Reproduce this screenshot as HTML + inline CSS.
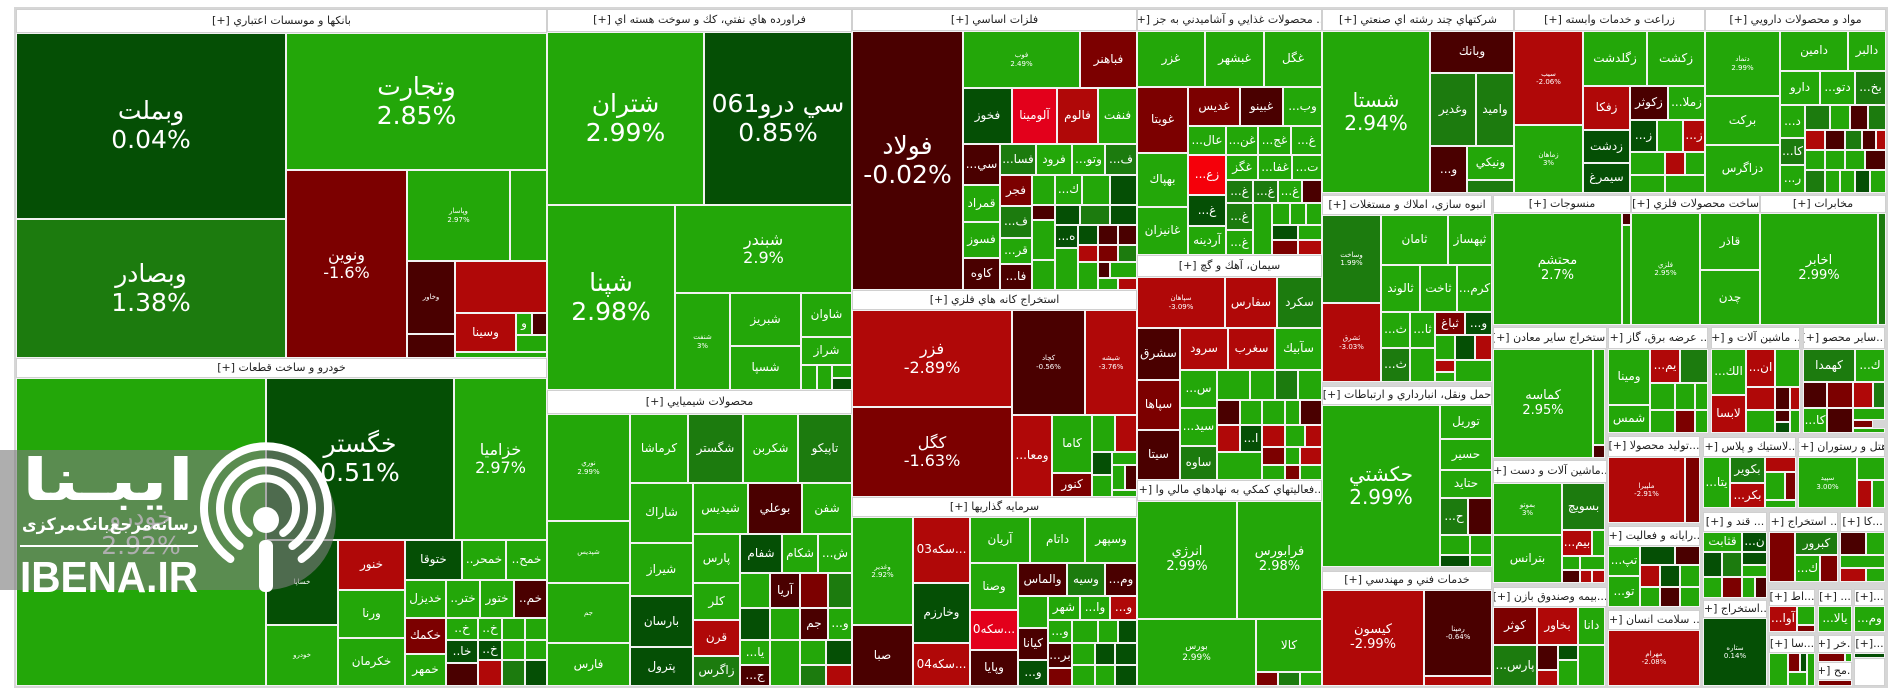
<!DOCTYPE html>
<html><head><meta charset="utf-8">
<style>
html,body{margin:0;padding:0;background:#fff;}
#w{position:relative;width:1904px;height:698px;overflow:hidden;font-family:"DejaVu Sans","Liberation Sans",sans-serif;}
#bg{position:absolute;left:14px;top:7px;width:1874px;height:681px;background:#d6d6d6;}
.c{position:absolute;box-sizing:border-box;border:1px solid #f2f2f2;color:#fff;display:flex;align-items:center;justify-content:center;text-align:center;overflow:hidden;line-height:1.15;font-size:12px;white-space:nowrap;
left:calc(var(--a)*1px);top:calc(var(--b)*1px);width:calc((var(--c) - var(--a))*1px);height:calc((var(--d) - var(--b))*1px);}
.h{background:#fff;color:#222;font-size:11px;border:1px solid #d0d0d0;}
.g{background:#23a709;}
.d{background:#054f05;}
.m{background:#1c7b0e;}
.k{background:#4a0000;}
.n{background:#7c0000;}
.r{background:#b00808;}
.b{background:#e3001b;}
.f1{font-size:25px;}
.f5{font-size:20px;}
.f2{font-size:16px;}
.f3{font-size:13px;}
.f4{font-size:7px;}
</style></head><body><div id="w"><div id="bg"></div>

<!-- BANKS -->
<div class="c h" dir="rtl" style="--a:16;--b:9;--c:547;--d:33">بانکها و موسسات اعتباري [+]</div>
<div class="c d f1" style="--a:16;--b:33;--c:286;--d:219">وبملت<br>0.04%</div>
<div class="c m f1" style="--a:16;--b:219;--c:286;--d:358">وبصادر<br>1.38%</div>
<div class="c g f1" style="--a:286;--b:33;--c:547;--d:170">وتجارت<br>2.85%</div>
<div class="c n f2" style="--a:286;--b:170;--c:407;--d:358">ونوين<br>-1.6%</div>
<div class="c g f4" style="--a:407;--b:170;--c:510;--d:261">وپاسار<br>2.97%</div>
<div class="c g" style="--a:510;--b:170;--c:547;--d:261"></div>
<div class="c k f4" style="--a:407;--b:261;--c:455;--d:334">وخاور</div>
<div class="c r" style="--a:455;--b:261;--c:547;--d:313"></div>
<div class="c r" style="--a:455;--b:313;--c:516;--d:352">وسينا</div>
<div class="c g" style="--a:516;--b:313;--c:532;--d:335">و</div>
<div class="c k" style="--a:532;--b:313;--c:547;--d:335"></div>
<div class="c g" style="--a:516;--b:335;--c:547;--d:352"></div>
<div class="c k" style="--a:407;--b:334;--c:455;--d:358"></div>
<div class="c g" style="--a:455;--b:352;--c:547;--d:358"></div>

<!-- AUTO -->
<div class="c h" dir="rtl" style="--a:16;--b:358;--c:547;--d:378">خودرو و ساخت قطعات [+]</div>
<div class="c g f1" style="--a:16;--b:378;--c:266;--d:686">خودرو<br>2.92%</div>
<div class="c d f1" style="--a:266;--b:378;--c:454;--d:540">خگستر<br>0.51%</div>
<div class="c g f2" style="--a:454;--b:378;--c:547;--d:540">خزاميا<br>2.97%</div>
<div class="c d f4" style="--a:266;--b:540;--c:338;--d:625">خساپا</div>
<div class="c g f4" style="--a:266;--b:625;--c:338;--d:686">خودرو</div>
<div class="c r" style="--a:338;--b:540;--c:405;--d:590">خنور</div>
<div class="c g" style="--a:338;--b:590;--c:405;--d:638">ورنا</div>
<div class="c g" style="--a:338;--b:638;--c:405;--d:686">خكرمان</div>
<div class="c d" style="--a:405;--b:540;--c:462;--d:580">ختوقا</div>
<div class="c g" style="--a:462;--b:540;--c:506;--d:580">..خمحر</div>
<div class="c g" style="--a:506;--b:540;--c:547;--d:580">..خمح</div>
<div class="c g" style="--a:405;--b:580;--c:446;--d:618">خديزل</div>
<div class="c g" style="--a:446;--b:580;--c:480;--d:618">..ختر</div>
<div class="c g" style="--a:480;--b:580;--c:514;--d:618">ختور</div>
<div class="c k" style="--a:514;--b:580;--c:547;--d:618">..خم</div>
<div class="c n" style="--a:405;--b:618;--c:446;--d:654">خكمك</div>
<div class="c g" style="--a:405;--b:654;--c:446;--d:686">خمهر</div>
<div class="c g" style="--a:446;--b:618;--c:478;--d:640">..خ</div>
<div class="c g" style="--a:478;--b:618;--c:502;--d:640">..خ</div>
<div class="c g" style="--a:502;--b:618;--c:525;--d:640"></div>
<div class="c g" style="--a:525;--b:618;--c:547;--d:640"></div>
<div class="c d" style="--a:446;--b:640;--c:478;--d:663">..خا</div>
<div class="c d" style="--a:478;--b:640;--c:502;--d:660">..خ</div>
<div class="c g" style="--a:502;--b:640;--c:525;--d:660"></div>
<div class="c g" style="--a:525;--b:640;--c:547;--d:660"></div>
<div class="c k" style="--a:446;--b:663;--c:478;--d:686"></div>
<div class="c r" style="--a:478;--b:660;--c:502;--d:686"></div>
<div class="c m" style="--a:502;--b:660;--c:525;--d:686"></div>
<div class="c d" style="--a:525;--b:660;--c:547;--d:686"></div>

<!-- OIL -->
<div class="c h" dir="rtl" style="--a:547;--b:9;--c:852;--d:32">فراورده هاي نفتي، كك و سوخت هسته اي [+]</div>
<div class="c g f1" style="--a:547;--b:32;--c:704;--d:205">شتران<br>2.99%</div>
<div class="c d f1" style="--a:704;--b:32;--c:852;--d:205">سي درو061<br>0.85%</div>
<div class="c g f1" style="--a:547;--b:205;--c:675;--d:390">شپنا<br>2.98%</div>
<div class="c g f2" style="--a:675;--b:205;--c:852;--d:293">شبندر<br>2.9%</div>
<div class="c g f4" style="--a:675;--b:293;--c:730;--d:390">شنفت<br>3%</div>
<div class="c g" style="--a:730;--b:293;--c:801;--d:346">شبريز</div>
<div class="c g" style="--a:730;--b:346;--c:801;--d:390">شسپا</div>
<div class="c g" style="--a:801;--b:293;--c:852;--d:337">شاوان</div>
<div class="c g" style="--a:801;--b:337;--c:852;--d:365">شراز</div>
<div class="c g" style="--a:801;--b:365;--c:817;--d:390"></div>
<div class="c g" style="--a:817;--b:365;--c:832;--d:390"></div>
<div class="c g" style="--a:832;--b:365;--c:852;--d:378"></div>
<div class="c d" style="--a:832;--b:378;--c:852;--d:390"></div>

<!-- CHEM -->
<div class="c h" dir="rtl" style="--a:547;--b:390;--c:852;--d:414">محصولات شيميايي [+]</div>
<div class="c g f4" style="--a:547;--b:414;--c:630;--d:521">نوري<br>2.99%</div>
<div class="c g f4" style="--a:547;--b:521;--c:630;--d:583">شپديس</div>
<div class="c g f4" style="--a:547;--b:583;--c:630;--d:643">جم</div>
<div class="c g" style="--a:547;--b:643;--c:630;--d:686">فارس</div>
<div class="c g" style="--a:630;--b:414;--c:688;--d:483">كرماشا</div>
<div class="c m" style="--a:688;--b:414;--c:743;--d:483">شگستر</div>
<div class="c g" style="--a:743;--b:414;--c:798;--d:483">شكربن</div>
<div class="c m" style="--a:798;--b:414;--c:852;--d:483">تاپيكو</div>
<div class="c g" style="--a:630;--b:483;--c:693;--d:543">شاراك</div>
<div class="c g" style="--a:630;--b:543;--c:693;--d:596">شيراز</div>
<div class="c d" style="--a:630;--b:596;--c:693;--d:647">بارسان</div>
<div class="c d" style="--a:630;--b:647;--c:693;--d:686">پترول</div>
<div class="c g" style="--a:693;--b:483;--c:748;--d:534">شيديس</div>
<div class="c k" style="--a:748;--b:483;--c:802;--d:534">بوعلي</div>
<div class="c g" style="--a:802;--b:483;--c:852;--d:534">شفن</div>
<div class="c g" style="--a:693;--b:534;--c:740;--d:583">پارس</div>
<div class="c g" style="--a:693;--b:583;--c:740;--d:620">كلر</div>
<div class="c r" style="--a:693;--b:620;--c:740;--d:656">قرن</div>
<div class="c m" style="--a:693;--b:656;--c:740;--d:686">زاگرس</div>
<div class="c d" style="--a:740;--b:534;--c:782;--d:573">شفام</div>
<div class="c g" style="--a:782;--b:534;--c:818;--d:573">شكام</div>
<div class="c g" style="--a:818;--b:534;--c:852;--d:573">...ش</div>
<div class="c g" style="--a:740;--b:573;--c:770;--d:608"></div>
<div class="c k" style="--a:770;--b:573;--c:800;--d:608">آريا</div>
<div class="c n" style="--a:800;--b:573;--c:828;--d:608"></div>
<div class="c m" style="--a:828;--b:573;--c:852;--d:608"></div>
<div class="c d" style="--a:740;--b:608;--c:770;--d:640"></div>
<div class="c g" style="--a:770;--b:608;--c:800;--d:640"></div>
<div class="c k" style="--a:800;--b:608;--c:828;--d:640">جم</div>
<div class="c g" style="--a:828;--b:608;--c:852;--d:640">...و</div>
<div class="c g" style="--a:740;--b:640;--c:770;--d:665">...يا</div>
<div class="c k" style="--a:740;--b:665;--c:770;--d:686">...ج</div>
<div class="c g" style="--a:770;--b:640;--c:800;--d:686"></div>
<div class="c g" style="--a:800;--b:640;--c:826;--d:665"></div>
<div class="c d" style="--a:826;--b:640;--c:852;--d:665"></div>
<div class="c m" style="--a:800;--b:665;--c:826;--d:686"></div>
<div class="c r" style="--a:826;--b:665;--c:852;--d:686"></div>

<!-- METALS -->
<div class="c h" dir="rtl" style="--a:852;--b:9;--c:1137;--d:31">فلزات اساسي [+]</div>
<div class="c k f1" style="--a:852;--b:31;--c:963;--d:290">فولاد<br>-0.02%</div>
<div class="c g f4" style="--a:963;--b:31;--c:1080;--d:88">فوب<br>2.49%</div>
<div class="c n" style="--a:1080;--b:31;--c:1137;--d:88">فباهنر</div>
<div class="c d" style="--a:963;--b:88;--c:1012;--d:144">فخوز</div>
<div class="c b" style="--a:1012;--b:88;--c:1057;--d:144">آلومينا</div>
<div class="c r" style="--a:1057;--b:88;--c:1098;--d:144">فالوم</div>
<div class="c g" style="--a:1098;--b:88;--c:1137;--d:144">فنفت</div>
<div class="c k" style="--a:963;--b:144;--c:1000;--d:185">...سي</div>
<div class="c m" style="--a:1000;--b:144;--c:1036;--d:175">...فسا</div>
<div class="c g" style="--a:1036;--b:144;--c:1072;--d:175">فرود</div>
<div class="c g" style="--a:1072;--b:144;--c:1105;--d:175">...وتو</div>
<div class="c m" style="--a:1105;--b:144;--c:1137;--d:175">...ف</div>
<div class="c g" style="--a:963;--b:185;--c:1000;--d:222">قمراد</div>
<div class="c g" style="--a:963;--b:222;--c:1000;--d:258">فسوز</div>
<div class="c k" style="--a:963;--b:258;--c:1000;--d:290">كاوه</div>
<div class="c n" style="--a:1000;--b:175;--c:1032;--d:206">فجر</div>
<div class="c m" style="--a:1000;--b:206;--c:1032;--d:238">...ف</div>
<div class="c g" style="--a:1000;--b:238;--c:1032;--d:264">...قر</div>
<div class="c k" style="--a:1000;--b:264;--c:1032;--d:290">...فا</div>
<div class="c g" style="--a:1032;--b:175;--c:1055;--d:205"></div>
<div class="c g" style="--a:1055;--b:175;--c:1082;--d:205">...ك</div>
<div class="c g" style="--a:1082;--b:175;--c:1110;--d:205"></div>
<div class="c d" style="--a:1110;--b:175;--c:1137;--d:205"></div>
<div class="c k" style="--a:1032;--b:205;--c:1055;--d:220"></div>
<div class="c d" style="--a:1055;--b:205;--c:1080;--d:225"></div>
<div class="c m" style="--a:1080;--b:205;--c:1110;--d:225"></div>
<div class="c d" style="--a:1110;--b:205;--c:1137;--d:225"></div>
<div class="c g" style="--a:1032;--b:220;--c:1055;--d:260"></div>
<div class="c d" style="--a:1055;--b:225;--c:1078;--d:248">...ه</div>
<div class="c d" style="--a:1078;--b:225;--c:1098;--d:245"></div>
<div class="c k" style="--a:1098;--b:225;--c:1118;--d:245"></div>
<div class="c k" style="--a:1118;--b:225;--c:1137;--d:245"></div>
<div class="c g" style="--a:1032;--b:260;--c:1055;--d:290"></div>
<div class="c g" style="--a:1055;--b:248;--c:1078;--d:290"></div>
<div class="c r" style="--a:1078;--b:245;--c:1098;--d:262"></div>
<div class="c n" style="--a:1098;--b:245;--c:1118;--d:262"></div>
<div class="c m" style="--a:1118;--b:245;--c:1137;--d:262"></div>
<div class="c g" style="--a:1078;--b:262;--c:1098;--d:290"></div>
<div class="c k" style="--a:1098;--b:262;--c:1110;--d:278"></div>
<div class="c g" style="--a:1110;--b:262;--c:1137;--d:278"></div>
<div class="c g" style="--a:1098;--b:278;--c:1118;--d:290"></div>
<div class="c r" style="--a:1118;--b:278;--c:1137;--d:290"></div>

<!-- KANE -->
<div class="c h" dir="rtl" style="--a:852;--b:290;--c:1137;--d:310">استخراج كانه هاي فلزي [+]</div>
<div class="c r f2" style="--a:852;--b:310;--c:1012;--d:407">فزر<br>-2.89%</div>
<div class="c n f2" style="--a:852;--b:407;--c:1012;--d:497">كگل<br>-1.63%</div>
<div class="c k f4" style="--a:1012;--b:310;--c:1085;--d:415">كچاد<br>-0.56%</div>
<div class="c r f4" style="--a:1085;--b:310;--c:1137;--d:415">شيشه<br>-3.76%</div>
<div class="c r" style="--a:1012;--b:415;--c:1052;--d:497">...ومعا</div>
<div class="c g" style="--a:1052;--b:415;--c:1092;--d:473">كاما</div>
<div class="c n" style="--a:1052;--b:473;--c:1092;--d:497">كنور</div>
<div class="c g" style="--a:1092;--b:415;--c:1115;--d:452"></div>
<div class="c r" style="--a:1115;--b:415;--c:1137;--d:452"></div>
<div class="c d" style="--a:1092;--b:452;--c:1112;--d:475"></div>
<div class="c g" style="--a:1112;--b:452;--c:1137;--d:465"></div>
<div class="c g" style="--a:1112;--b:465;--c:1125;--d:490"></div>
<div class="c k" style="--a:1125;--b:465;--c:1137;--d:490"></div>
<div class="c g" style="--a:1092;--b:475;--c:1112;--d:497"></div>
<div class="c g" style="--a:1112;--b:490;--c:1137;--d:497"></div>

<!-- INVEST -->
<div class="c h" dir="rtl" style="--a:852;--b:497;--c:1137;--d:517">سرمايه گذاريها [+]</div>
<div class="c g f4" style="--a:852;--b:517;--c:913;--d:625">وغدير<br>2.92%</div>
<div class="c k" style="--a:852;--b:625;--c:913;--d:686">صبا</div>
<div class="c r" style="--a:913;--b:517;--c:970;--d:583">03سكه...</div>
<div class="c d" style="--a:913;--b:583;--c:970;--d:643">وخارزم</div>
<div class="c r" style="--a:913;--b:643;--c:970;--d:686">04سكه...</div>
<div class="c g" style="--a:970;--b:517;--c:1030;--d:563">آريان</div>
<div class="c g" style="--a:1030;--b:517;--c:1085;--d:563">داتام</div>
<div class="c g" style="--a:1085;--b:517;--c:1137;--d:563">وسپهر</div>
<div class="c g" style="--a:970;--b:563;--c:1018;--d:610">وصنا</div>
<div class="c b" style="--a:970;--b:610;--c:1018;--d:650">0سكه...</div>
<div class="c k" style="--a:970;--b:650;--c:1018;--d:686">وپايا</div>
<div class="c k" style="--a:1018;--b:563;--c:1067;--d:596">والماس</div>
<div class="c m" style="--a:1067;--b:563;--c:1105;--d:596">وسيه</div>
<div class="c k" style="--a:1105;--b:563;--c:1137;--d:596">...وم</div>
<div class="c g" style="--a:1018;--b:596;--c:1048;--d:628"></div>
<div class="c g" style="--a:1048;--b:596;--c:1080;--d:620">شهر</div>
<div class="c g" style="--a:1080;--b:596;--c:1110;--d:620">...وا</div>
<div class="c r" style="--a:1110;--b:596;--c:1137;--d:620">...و</div>
<div class="c k" style="--a:1018;--b:628;--c:1048;--d:660">كيانا</div>
<div class="c d" style="--a:1018;--b:660;--c:1048;--d:686">...و</div>
<div class="c g" style="--a:1048;--b:620;--c:1072;--d:643">...و</div>
<div class="c g" style="--a:1072;--b:620;--c:1098;--d:643"></div>
<div class="c g" style="--a:1098;--b:620;--c:1118;--d:643"></div>
<div class="c d" style="--a:1118;--b:620;--c:1137;--d:643"></div>
<div class="c k" style="--a:1048;--b:643;--c:1072;--d:668">...بر</div>
<div class="c n" style="--a:1048;--b:668;--c:1072;--d:686"></div>
<div class="c g" style="--a:1072;--b:643;--c:1095;--d:665"></div>
<div class="c d" style="--a:1095;--b:643;--c:1115;--d:665"></div>
<div class="c d" style="--a:1115;--b:643;--c:1137;--d:665"></div>
<div class="c g" style="--a:1072;--b:665;--c:1095;--d:686"></div>
<div class="c g" style="--a:1095;--b:665;--c:1115;--d:686"></div>
<div class="c d" style="--a:1115;--b:665;--c:1137;--d:686"></div>

<!-- FOOD -->
<div class="c h" dir="rtl" style="--a:1137;--b:9;--c:1322;--d:31">... محصولات غذايي و آشاميدني به جز [+]</div>
<div class="c g" style="--a:1137;--b:31;--c:1205;--d:87">غزر</div>
<div class="c g" style="--a:1205;--b:31;--c:1264;--d:87">غبشهر</div>
<div class="c g" style="--a:1264;--b:31;--c:1322;--d:87">غگل</div>
<div class="c n" style="--a:1137;--b:87;--c:1188;--d:153">غويتا</div>
<div class="c n" style="--a:1188;--b:87;--c:1240;--d:126">غديس</div>
<div class="c k" style="--a:1240;--b:87;--c:1283;--d:126">غبينو</div>
<div class="c g" style="--a:1283;--b:87;--c:1322;--d:126">...وب</div>
<div class="c g" style="--a:1137;--b:153;--c:1188;--d:207">بهپاك</div>
<div class="c g" style="--a:1137;--b:207;--c:1188;--d:255">غانيزان</div>
<div class="c g" style="--a:1188;--b:126;--c:1226;--d:155">...عال</div>
<div class="c g" style="--a:1226;--b:126;--c:1258;--d:155">...غن</div>
<div class="c g" style="--a:1258;--b:126;--c:1291;--d:155">...غج</div>
<div class="c g" style="--a:1291;--b:126;--c:1322;--d:155">...غ</div>
<div class="c" style="background:#f5000a;--a:1188;--b:155;--c:1226;--d:195">...زع</div>
<div class="c d" style="--a:1188;--b:195;--c:1226;--d:226">...غ</div>
<div class="c g" style="--a:1188;--b:226;--c:1226;--d:255">آردينه</div>
<div class="c g" style="--a:1226;--b:155;--c:1258;--d:180">غگز</div>
<div class="c g" style="--a:1258;--b:155;--c:1292;--d:180">...غفا</div>
<div class="c g" style="--a:1292;--b:155;--c:1322;--d:180">...ت</div>
<div class="c m" style="--a:1226;--b:180;--c:1253;--d:203">...غ</div>
<div class="c m" style="--a:1253;--b:180;--c:1278;--d:203">...غ</div>
<div class="c g" style="--a:1278;--b:180;--c:1302;--d:203">...غ</div>
<div class="c k" style="--a:1302;--b:180;--c:1322;--d:203"></div>
<div class="c m" style="--a:1226;--b:203;--c:1253;--d:230">...غ</div>
<div class="c g" style="--a:1226;--b:230;--c:1253;--d:255">...غ</div>
<div class="c g" style="--a:1253;--b:203;--c:1272;--d:255"></div>
<div class="c g" style="--a:1272;--b:203;--c:1290;--d:225"></div>
<div class="c g" style="--a:1290;--b:203;--c:1306;--d:225"></div>
<div class="c g" style="--a:1306;--b:203;--c:1322;--d:225"></div>
<div class="c d" style="--a:1272;--b:225;--c:1298;--d:240"></div>
<div class="c g" style="--a:1298;--b:225;--c:1322;--d:240"></div>
<div class="c n" style="--a:1272;--b:240;--c:1298;--d:255"></div>
<div class="c r" style="--a:1298;--b:240;--c:1322;--d:255"></div>

<!-- CEMENT -->
<div class="c h" dir="rtl" style="--a:1137;--b:255;--c:1322;--d:277">سيمان، آهك و گچ [+]</div>
<div class="c r f4" style="--a:1137;--b:277;--c:1225;--d:328">سپاهان<br>-3.09%</div>
<div class="c r" style="--a:1225;--b:277;--c:1277;--d:328">سفارس</div>
<div class="c m" style="--a:1277;--b:277;--c:1322;--d:328">سكرد</div>
<div class="c k" style="--a:1137;--b:328;--c:1180;--d:380">سشرق</div>
<div class="c r" style="--a:1180;--b:328;--c:1228;--d:370">سرود</div>
<div class="c r" style="--a:1228;--b:328;--c:1275;--d:370">سغرب</div>
<div class="c g" style="--a:1275;--b:328;--c:1322;--d:370">سآبيك</div>
<div class="c n" style="--a:1137;--b:380;--c:1180;--d:430">سپاها</div>
<div class="c k" style="--a:1137;--b:430;--c:1180;--d:480">سيتا</div>
<div class="c g" style="--a:1180;--b:370;--c:1217;--d:408">...س</div>
<div class="c g" style="--a:1180;--b:408;--c:1217;--d:446">...سيد</div>
<div class="c m" style="--a:1180;--b:446;--c:1217;--d:480">ساوه</div>
<div class="c g" style="--a:1217;--b:370;--c:1250;--d:400"></div>
<div class="c g" style="--a:1250;--b:370;--c:1275;--d:400"></div>
<div class="c m" style="--a:1275;--b:370;--c:1298;--d:400"></div>
<div class="c g" style="--a:1298;--b:370;--c:1322;--d:400"></div>
<div class="c k" style="--a:1217;--b:400;--c:1240;--d:425"></div>
<div class="c g" style="--a:1240;--b:400;--c:1262;--d:425"></div>
<div class="c g" style="--a:1262;--b:400;--c:1285;--d:425"></div>
<div class="c g" style="--a:1285;--b:400;--c:1300;--d:425"></div>
<div class="c k" style="--a:1300;--b:400;--c:1322;--d:425"></div>
<div class="c r" style="--a:1217;--b:425;--c:1240;--d:452"></div>
<div class="c d" style="--a:1240;--b:425;--c:1262;--d:452">...ا</div>
<div class="c r" style="--a:1262;--b:425;--c:1285;--d:447"></div>
<div class="c g" style="--a:1285;--b:425;--c:1305;--d:447"></div>
<div class="c r" style="--a:1305;--b:425;--c:1322;--d:447"></div>
<div class="c g" style="--a:1217;--b:452;--c:1262;--d:480"></div>
<div class="c n" style="--a:1262;--b:447;--c:1285;--d:465"></div>
<div class="c g" style="--a:1285;--b:447;--c:1300;--d:465"></div>
<div class="c r" style="--a:1300;--b:447;--c:1322;--d:465"></div>
<div class="c g" style="--a:1262;--b:465;--c:1285;--d:480"></div>
<div class="c n" style="--a:1285;--b:465;--c:1300;--d:480"></div>
<div class="c g" style="--a:1300;--b:465;--c:1322;--d:480"></div>

<!-- FIN -->
<div class="c h" dir="rtl" style="--a:1137;--b:480;--c:1322;--d:501">...فعاليتهاي كمكي به نهادهاي مالي وا [+]</div>
<div class="c g f3" style="--a:1137;--b:501;--c:1237;--d:619">انرژي<br>2.99%</div>
<div class="c g f3" style="--a:1237;--b:501;--c:1322;--d:619">فرابورس<br>2.98%</div>
<div class="c g" style="--a:1137;--b:619;--c:1256;--d:686;font-size:9px">بورس<br>2.99%</div>
<div class="c g" style="--a:1256;--b:619;--c:1322;--d:672">كالا</div>
<div class="c n" style="--a:1256;--b:672;--c:1278;--d:686"></div>
<div class="c m" style="--a:1278;--b:672;--c:1300;--d:686"></div>
<div class="c g" style="--a:1300;--b:672;--c:1322;--d:686"></div>

<!-- MULTI -->
<div class="c h" dir="rtl" style="--a:1322;--b:9;--c:1514;--d:31">شرکتهاي چند رشته اي صنعتي [+]</div>
<div class="c g f5" style="--a:1322;--b:31;--c:1430;--d:193">شستا<br>2.94%</div>
<div class="c k" style="--a:1430;--b:31;--c:1514;--d:73">وبانك</div>
<div class="c m" style="--a:1430;--b:73;--c:1476;--d:146">وغدير</div>
<div class="c m" style="--a:1476;--b:73;--c:1514;--d:146">واميد</div>
<div class="c k" style="--a:1430;--b:146;--c:1467;--d:193">...و</div>
<div class="c g" style="--a:1467;--b:146;--c:1514;--d:180">ونيكي</div>
<div class="c m" style="--a:1467;--b:180;--c:1514;--d:193"></div>

<!-- ZERAAT -->
<div class="c h" dir="rtl" style="--a:1514;--b:9;--c:1705;--d:31">زراعت و خدمات وابسته [+]</div>
<div class="c r f4" style="--a:1514;--b:31;--c:1583;--d:125">سيب<br>-2.06%</div>
<div class="c g f4" style="--a:1514;--b:125;--c:1583;--d:193">زماهان<br>3%</div>
<div class="c g" style="--a:1583;--b:31;--c:1647;--d:86">زگلدشت</div>
<div class="c g" style="--a:1647;--b:31;--c:1705;--d:86">زكشت</div>
<div class="c r" style="--a:1583;--b:86;--c:1630;--d:130">زفكا</div>
<div class="c k" style="--a:1630;--b:86;--c:1668;--d:120">زكوثر</div>
<div class="c g" style="--a:1668;--b:86;--c:1705;--d:120">...زملا</div>
<div class="c d" style="--a:1583;--b:130;--c:1630;--d:163">زدشت</div>
<div class="c d" style="--a:1583;--b:163;--c:1630;--d:193">سيمرغ</div>
<div class="c d" style="--a:1630;--b:120;--c:1657;--d:152">...ز</div>
<div class="c g" style="--a:1657;--b:120;--c:1683;--d:152"></div>
<div class="c r" style="--a:1683;--b:120;--c:1705;--d:152">...ز</div>
<div class="c g" style="--a:1630;--b:152;--c:1665;--d:175"></div>
<div class="c r" style="--a:1665;--b:152;--c:1685;--d:175"></div>
<div class="c g" style="--a:1685;--b:152;--c:1705;--d:175"></div>
<div class="c g" style="--a:1630;--b:175;--c:1665;--d:193"></div>
<div class="c g" style="--a:1665;--b:175;--c:1705;--d:193"></div>

<!-- DARU -->
<div class="c h" dir="rtl" style="--a:1705;--b:9;--c:1886;--d:31">مواد و محصولات دارويي [+]</div>
<div class="c g f4" style="--a:1705;--b:31;--c:1780;--d:96">دتماد<br>2.99%</div>
<div class="c g" style="--a:1705;--b:96;--c:1780;--d:145">بركت</div>
<div class="c g" style="--a:1705;--b:145;--c:1780;--d:193">دزاگرس</div>
<div class="c g" style="--a:1780;--b:31;--c:1848;--d:71">دامين</div>
<div class="c g" style="--a:1848;--b:31;--c:1886;--d:71">دالبر</div>
<div class="c g" style="--a:1780;--b:71;--c:1820;--d:105">دارو</div>
<div class="c g" style="--a:1820;--b:71;--c:1855;--d:105">...دتو</div>
<div class="c m" style="--a:1855;--b:71;--c:1886;--d:105">...بخ</div>
<div class="c g" style="--a:1780;--b:105;--c:1805;--d:138">...د</div>
<div class="c m" style="--a:1805;--b:105;--c:1830;--d:130"></div>
<div class="c g" style="--a:1830;--b:105;--c:1850;--d:130"></div>
<div class="c k" style="--a:1850;--b:105;--c:1868;--d:130"></div>
<div class="c m" style="--a:1868;--b:105;--c:1886;--d:130"></div>
<div class="c r" style="--a:1805;--b:130;--c:1825;--d:150"></div>
<div class="c k" style="--a:1825;--b:130;--c:1845;--d:150"></div>
<div class="c m" style="--a:1845;--b:130;--c:1862;--d:150"></div>
<div class="c k" style="--a:1862;--b:130;--c:1876;--d:150"></div>
<div class="c r" style="--a:1876;--b:130;--c:1886;--d:150"></div>
<div class="c m" style="--a:1780;--b:138;--c:1805;--d:165">...كا</div>
<div class="c g" style="--a:1805;--b:150;--c:1825;--d:170"></div>
<div class="c g" style="--a:1825;--b:150;--c:1845;--d:170"></div>
<div class="c g" style="--a:1845;--b:150;--c:1865;--d:170"></div>
<div class="c k" style="--a:1865;--b:150;--c:1886;--d:170"></div>
<div class="c g" style="--a:1780;--b:165;--c:1805;--d:193">...ر</div>
<div class="c m" style="--a:1805;--b:170;--c:1825;--d:193"></div>
<div class="c g" style="--a:1825;--b:170;--c:1840;--d:193"></div>
<div class="c g" style="--a:1840;--b:170;--c:1855;--d:193"></div>
<div class="c d" style="--a:1855;--b:170;--c:1870;--d:193"></div>
<div class="c g" style="--a:1870;--b:170;--c:1886;--d:193"></div>

<!-- ANBOOH -->
<div class="c h" dir="rtl" style="--a:1322;--b:195;--c:1492;--d:215">انبوه سازي، املاك و مستغلات [+]</div>
<div class="c m f4" style="--a:1322;--b:215;--c:1381;--d:303">وساخت<br>1.99%</div>
<div class="c r f4" style="--a:1322;--b:303;--c:1381;--d:382">ثشرق<br>-3.03%</div>
<div class="c g" style="--a:1381;--b:215;--c:1448;--d:265">ثامان</div>
<div class="c g" style="--a:1448;--b:215;--c:1492;--d:265">ثپهساز</div>
<div class="c g" style="--a:1381;--b:265;--c:1420;--d:312">ثالوند</div>
<div class="c g" style="--a:1420;--b:265;--c:1457;--d:312">ثاخت</div>
<div class="c g" style="--a:1457;--b:265;--c:1492;--d:312">...كرم</div>
<div class="c g" style="--a:1381;--b:312;--c:1410;--d:348">...ث</div>
<div class="c g" style="--a:1410;--b:312;--c:1435;--d:348">...ثا</div>
<div class="c n" style="--a:1435;--b:312;--c:1465;--d:335">ثباغ</div>
<div class="c d" style="--a:1465;--b:312;--c:1492;--d:335">...و</div>
<div class="c m" style="--a:1381;--b:348;--c:1410;--d:382">...ث</div>
<div class="c g" style="--a:1410;--b:348;--c:1435;--d:382"></div>
<div class="c g" style="--a:1435;--b:335;--c:1455;--d:360"></div>
<div class="c d" style="--a:1455;--b:335;--c:1475;--d:360"></div>
<div class="c r" style="--a:1475;--b:335;--c:1492;--d:360"></div>
<div class="c r" style="--a:1435;--b:360;--c:1455;--d:372"></div>
<div class="c g" style="--a:1435;--b:372;--c:1455;--d:382"></div>
<div class="c g" style="--a:1455;--b:360;--c:1492;--d:382"></div>

<!-- HAML -->
<div class="c h" dir="rtl" style="--a:1322;--b:386;--c:1492;--d:405">حمل ونقل، انبارداري و ارتباطات [+]</div>
<div class="c g f5" style="--a:1322;--b:405;--c:1440;--d:567">حكشتي<br>2.99%</div>
<div class="c g" style="--a:1440;--b:405;--c:1492;--d:439">توريل</div>
<div class="c g" style="--a:1440;--b:439;--c:1492;--d:470">حسير</div>
<div class="c g" style="--a:1440;--b:470;--c:1492;--d:498">حتايد</div>
<div class="c m" style="--a:1440;--b:498;--c:1468;--d:535">...ح</div>
<div class="c k" style="--a:1468;--b:498;--c:1492;--d:535"></div>
<div class="c g" style="--a:1440;--b:535;--c:1470;--d:555"></div>
<div class="c g" style="--a:1470;--b:535;--c:1492;--d:555"></div>
<div class="c d" style="--a:1440;--b:555;--c:1470;--d:567"></div>
<div class="c g" style="--a:1470;--b:555;--c:1492;--d:567"></div>

<!-- KHADAMAT -->
<div class="c h" dir="rtl" style="--a:1322;--b:571;--c:1492;--d:590">خدمات فني و مهندسي [+]</div>
<div class="c r f3" style="--a:1322;--b:590;--c:1424;--d:686">كيسون<br>-2.99%</div>
<div class="c k f4" style="--a:1424;--b:590;--c:1492;--d:676">رمپنا<br>-0.64%</div>
<div class="c r" style="--a:1424;--b:676;--c:1492;--d:686"></div>

<!-- MANSOOJAT / SAKHT / MOKHABERAT -->
<div class="c h" dir="rtl" style="--a:1493;--b:195;--c:1631;--d:213">منسوجات [+]</div>
<div class="c g f3" style="--a:1493;--b:213;--c:1622;--d:325">محتشم<br>2.7%</div>
<div class="c k" style="--a:1622;--b:213;--c:1631;--d:225"></div>
<div class="c g" style="--a:1622;--b:225;--c:1631;--d:325"></div>
<div class="c h" dir="rtl" style="--a:1631;--b:195;--c:1760;--d:213">ساخت محصولات فلزي [+]</div>
<div class="c g f4" style="--a:1631;--b:213;--c:1700;--d:325">فلزي<br>2.95%</div>
<div class="c g" style="--a:1700;--b:213;--c:1760;--d:270">قاذر</div>
<div class="c g" style="--a:1700;--b:270;--c:1760;--d:325">چدن</div>
<div class="c h" dir="rtl" style="--a:1760;--b:195;--c:1886;--d:213">مخابرات [+]</div>
<div class="c g f3" style="--a:1760;--b:213;--c:1878;--d:325">اخابر<br>2.99%</div>
<div class="c m" style="--a:1878;--b:213;--c:1886;--d:325"></div>

<!-- SMALL SECTORS -->
<div class="c h" dir="rtl" style="--a:1493;--b:327;--c:1607;--d:349">استخراج ساير معادن [+]</div>
<div class="c g f3" style="--a:1493;--b:349;--c:1593;--d:458">كماسه<br>2.95%</div>
<div class="c g" style="--a:1593;--b:349;--c:1605;--d:445"></div>
<div class="c k" style="--a:1593;--b:445;--c:1605;--d:458"></div>
<div class="c h" dir="rtl" style="--a:1493;--b:460;--c:1607;--d:483">...ماشين آلات و دست [+]</div>
<div class="c g f4" style="--a:1493;--b:483;--c:1562;--d:535">بموتو<br>3%</div>
<div class="c g" style="--a:1493;--b:535;--c:1562;--d:583">بترانس</div>
<div class="c m" style="--a:1562;--b:483;--c:1605;--d:530">بسويچ</div>
<div class="c r" style="--a:1562;--b:530;--c:1592;--d:556">...بيم</div>
<div class="c g" style="--a:1592;--b:530;--c:1605;--d:556"></div>
<div class="c g" style="--a:1562;--b:556;--c:1580;--d:570"></div>
<div class="c g" style="--a:1580;--b:556;--c:1605;--d:570"></div>
<div class="c k" style="--a:1562;--b:570;--c:1580;--d:583"></div>
<div class="c r" style="--a:1580;--b:570;--c:1592;--d:583"></div>
<div class="c r" style="--a:1592;--b:570;--c:1605;--d:583"></div>
<div class="c h" dir="rtl" style="--a:1493;--b:587;--c:1607;--d:607">...بيمه وصندوق بازن [+]</div>
<div class="c n" style="--a:1493;--b:607;--c:1537;--d:645">كوثر</div>
<div class="c r" style="--a:1537;--b:607;--c:1578;--d:645">بخاور</div>
<div class="c g" style="--a:1578;--b:607;--c:1605;--d:645">دانا</div>
<div class="c m" style="--a:1493;--b:645;--c:1537;--d:686">...پارس</div>
<div class="c k" style="--a:1537;--b:645;--c:1558;--d:670"></div>
<div class="c d" style="--a:1558;--b:645;--c:1578;--d:660"></div>
<div class="c g" style="--a:1578;--b:645;--c:1605;--d:686"></div>
<div class="c r" style="--a:1537;--b:670;--c:1558;--d:686"></div>
<div class="c g" style="--a:1558;--b:660;--c:1578;--d:686"></div>

<div class="c h" dir="rtl" style="--a:1608;--b:327;--c:1708;--d:349">... عرضه برق، گاز [+]</div>
<div class="c g" style="--a:1608;--b:349;--c:1650;--d:405">ومينا</div>
<div class="c g" style="--a:1608;--b:405;--c:1650;--d:433">شمس</div>
<div class="c r" style="--a:1650;--b:349;--c:1680;--d:383">...يم</div>
<div class="c m" style="--a:1680;--b:349;--c:1708;--d:383"></div>
<div class="c g" style="--a:1650;--b:383;--c:1675;--d:410"></div>
<div class="c g" style="--a:1675;--b:383;--c:1695;--d:410"></div>
<div class="c g" style="--a:1695;--b:383;--c:1708;--d:410"></div>
<div class="c g" style="--a:1650;--b:410;--c:1675;--d:433"></div>
<div class="c n" style="--a:1675;--b:410;--c:1695;--d:433"></div>
<div class="c g" style="--a:1695;--b:410;--c:1708;--d:433"></div>
<div class="c h" dir="rtl" style="--a:1608;--b:436;--c:1700;--d:457">...توليد محصولا [+]</div>
<div class="c r f4" style="--a:1608;--b:457;--c:1685;--d:523">ملپيرا<br>-2.91%</div>
<div class="c n" style="--a:1685;--b:457;--c:1700;--d:523"></div>
<div class="c h" dir="rtl" style="--a:1608;--b:526;--c:1700;--d:546">...رايانه و فعاليت [+]</div>
<div class="c g" style="--a:1608;--b:546;--c:1640;--d:576">...تپ</div>
<div class="c g" style="--a:1608;--b:576;--c:1640;--d:607">...تو</div>
<div class="c d" style="--a:1640;--b:546;--c:1675;--d:565"></div>
<div class="c k" style="--a:1675;--b:546;--c:1700;--d:565"></div>
<div class="c r" style="--a:1640;--b:565;--c:1660;--d:587"></div>
<div class="c d" style="--a:1660;--b:565;--c:1680;--d:587"></div>
<div class="c g" style="--a:1680;--b:565;--c:1700;--d:587"></div>
<div class="c g" style="--a:1640;--b:587;--c:1660;--d:607"></div>
<div class="c k" style="--a:1660;--b:587;--c:1680;--d:607"></div>
<div class="c g" style="--a:1680;--b:587;--c:1700;--d:607"></div>
<div class="c h" dir="rtl" style="--a:1608;--b:610;--c:1700;--d:630">... سلامت انسان [+]</div>
<div class="c r f4" style="--a:1608;--b:630;--c:1700;--d:686">مهرام<br>-2.08%</div>

<div class="c h" dir="rtl" style="--a:1711;--b:327;--c:1800;--d:349">... ماشين آلات و [+]</div>
<div class="c g" style="--a:1711;--b:349;--c:1746;--d:395">...الك</div>
<div class="c r" style="--a:1746;--b:349;--c:1775;--d:387">...ان</div>
<div class="c g" style="--a:1775;--b:349;--c:1800;--d:387"></div>
<div class="c r" style="--a:1711;--b:395;--c:1746;--d:433">لابسا</div>
<div class="c r" style="--a:1746;--b:387;--c:1775;--d:410"></div>
<div class="c k" style="--a:1775;--b:387;--c:1790;--d:410"></div>
<div class="c r" style="--a:1790;--b:387;--c:1800;--d:410"></div>
<div class="c g" style="--a:1746;--b:410;--c:1775;--d:433"></div>
<div class="c k" style="--a:1775;--b:410;--c:1790;--d:422"></div>
<div class="c d" style="--a:1775;--b:422;--c:1790;--d:433"></div>
<div class="c g" style="--a:1790;--b:410;--c:1800;--d:433"></div>

<div class="c h" dir="rtl" style="--a:1803;--b:327;--c:1885;--d:349">...ساير محصو [+]</div>
<div class="c m" style="--a:1803;--b:349;--c:1855;--d:382">كهمدا</div>
<div class="c g" style="--a:1855;--b:349;--c:1885;--d:382">...ك</div>
<div class="c k" style="--a:1803;--b:382;--c:1827;--d:408"></div>
<div class="c n" style="--a:1827;--b:382;--c:1853;--d:408"></div>
<div class="c r" style="--a:1853;--b:382;--c:1873;--d:408"></div>
<div class="c m" style="--a:1873;--b:382;--c:1885;--d:408"></div>
<div class="c g" style="--a:1803;--b:408;--c:1827;--d:433">...كا</div>
<div class="c k" style="--a:1827;--b:408;--c:1853;--d:433"></div>
<div class="c g" style="--a:1853;--b:408;--c:1885;--d:420"></div>
<div class="c n" style="--a:1853;--b:420;--c:1873;--d:428"></div>
<div class="c g" style="--a:1853;--b:428;--c:1885;--d:433"></div>

<div class="c h" dir="rtl" style="--a:1703;--b:437;--c:1796;--d:457">...لاستيك و پلاس [+]</div>
<div class="c g" style="--a:1703;--b:457;--c:1730;--d:508">...يتا</div>
<div class="c m" style="--a:1730;--b:457;--c:1765;--d:483">بكوير</div>
<div class="c r" style="--a:1730;--b:483;--c:1765;--d:508">...بكر</div>
<div class="c r" style="--a:1765;--b:457;--c:1796;--d:472"></div>
<div class="c g" style="--a:1765;--b:472;--c:1785;--d:500"></div>
<div class="c n" style="--a:1785;--b:472;--c:1796;--d:500"></div>
<div class="c g" style="--a:1765;--b:500;--c:1796;--d:508"></div>
<div class="c h" dir="rtl" style="--a:1798;--b:437;--c:1885;--d:457">هتل و رستوران [+]</div>
<div class="c g f4" style="--a:1798;--b:457;--c:1857;--d:508">سپيد<br>3.00%</div>
<div class="c g" style="--a:1857;--b:457;--c:1885;--d:480"></div>
<div class="c r" style="--a:1857;--b:480;--c:1872;--d:508"></div>
<div class="c g" style="--a:1872;--b:480;--c:1885;--d:508"></div>

<div class="c h" dir="rtl" style="--a:1703;--b:512;--c:1767;--d:532">... قند و [+]</div>
<div class="c g" style="--a:1703;--b:532;--c:1742;--d:552">قثابت</div>
<div class="c d" style="--a:1742;--b:532;--c:1767;--d:552">...ن</div>
<div class="c d" style="--a:1703;--b:552;--c:1722;--d:577"></div>
<div class="c m" style="--a:1722;--b:552;--c:1742;--d:577"></div>
<div class="c d" style="--a:1742;--b:552;--c:1767;--d:565"></div>
<div class="c g" style="--a:1742;--b:565;--c:1767;--d:577"></div>
<div class="c g" style="--a:1703;--b:577;--c:1722;--d:598"></div>
<div class="c n" style="--a:1722;--b:577;--c:1742;--d:598"></div>
<div class="c g" style="--a:1742;--b:577;--c:1755;--d:598"></div>
<div class="c k" style="--a:1755;--b:577;--c:1767;--d:598"></div>
<div class="c h" dir="rtl" style="--a:1769;--b:512;--c:1838;--d:532">... استخراج [+]</div>
<div class="c n" style="--a:1769;--b:532;--c:1795;--d:582"></div>
<div class="c m" style="--a:1795;--b:532;--c:1838;--d:555">كبرور</div>
<div class="c g" style="--a:1795;--b:555;--c:1820;--d:582">...ك</div>
<div class="c n" style="--a:1820;--b:555;--c:1838;--d:582"></div>
<div class="c h" dir="rtl" style="--a:1840;--b:512;--c:1885;--d:532">...كا [+]</div>
<div class="c k" style="--a:1840;--b:532;--c:1866;--d:555"></div>
<div class="c g" style="--a:1866;--b:532;--c:1885;--d:555"></div>
<div class="c g" style="--a:1840;--b:555;--c:1885;--d:568"></div>
<div class="c r" style="--a:1840;--b:568;--c:1866;--d:582"></div>
<div class="c g" style="--a:1866;--b:568;--c:1885;--d:582"></div>

<div class="c h" dir="rtl" style="--a:1703;--b:600;--c:1767;--d:618">...استخراج [+]</div>
<div class="c d f4" style="--a:1703;--b:618;--c:1767;--d:686">ستاره<br>0.14%</div>
<div class="c h" dir="rtl" style="--a:1769;--b:589;--c:1815;--d:606">...اط [+]</div>
<div class="c r" style="--a:1769;--b:606;--c:1797;--d:632">...آوا</div>
<div class="c g" style="--a:1797;--b:606;--c:1815;--d:625"></div>
<div class="c n" style="--a:1797;--b:625;--c:1815;--d:632"></div>
<div class="c h" dir="rtl" style="--a:1818;--b:589;--c:1852;--d:606">... [+]</div>
<div class="c g" style="--a:1818;--b:606;--c:1852;--d:632">...يالا</div>
<div class="c h" dir="rtl" style="--a:1854;--b:589;--c:1885;--d:606">...[+]</div>
<div class="c g" style="--a:1854;--b:606;--c:1885;--d:632">...وم</div>
<div class="c h" dir="rtl" style="--a:1769;--b:635;--c:1815;--d:653">...سا [+]</div>
<div class="c g" style="--a:1769;--b:653;--c:1788;--d:686"></div>
<div class="c n" style="--a:1788;--b:653;--c:1800;--d:672"></div>
<div class="c d" style="--a:1800;--b:653;--c:1807;--d:672"></div>
<div class="c g" style="--a:1807;--b:653;--c:1815;--d:686"></div>
<div class="c g" style="--a:1788;--b:672;--c:1807;--d:686"></div>
<div class="c h" dir="rtl" style="--a:1818;--b:635;--c:1852;--d:653">...خر [+]</div>
<div class="c n" style="--a:1818;--b:653;--c:1845;--d:662"></div>
<div class="c g" style="--a:1845;--b:653;--c:1852;--d:662"></div>
<div class="c h" dir="rtl" style="--a:1818;--b:662;--c:1852;--d:680">...مح [+]</div>
<div class="c n" style="--a:1818;--b:680;--c:1852;--d:686"></div>
<div class="c h" dir="rtl" style="--a:1854;--b:635;--c:1885;--d:653">...[+]</div>
<div class="c d" style="--a:1854;--b:653;--c:1885;--d:658"></div>
<div class="c h" style="--a:1854;--b:658;--c:1885;--d:686"></div>

<!-- LOGO OVERLAY -->
<svg style="position:absolute;left:0;top:0" width="1904" height="698" viewBox="0 0 1904 698">
<path d="M0 450 H266 V590 H0 Z M196 520 A70 70 0 1 1 336 520 A70 70 0 1 1 196 520 Z" fill="rgba(125,125,125,0.62)"/>
<g fill="none" stroke="#fff" stroke-width="8" stroke-linecap="round">
<path d="M248.8 533 A30 30 0 1 1 283.2 533"/>
<path d="M239.6 546 A46 46 0 1 1 292.4 546"/>
<path d="M230.4 559 A62 62 0 1 1 301.6 559"/>
</g>
<circle cx="266" cy="520" r="13" fill="#fff"/>
<rect x="259" y="540" width="14" height="52" rx="6" fill="#fff"/>
<text x="22" y="500" font-family="DejaVu Sans" font-weight="bold" font-size="58" fill="#fff" textLength="172" lengthAdjust="spacingAndGlyphs">ایبـنا</text>
<text x="22" y="530" font-family="DejaVu Sans" font-weight="bold" font-size="17" fill="#fff" textLength="176" lengthAdjust="spacingAndGlyphs">رسانه‌مرجع‌بانک‌مرکزی</text>
<rect x="20" y="545" width="178" height="2" fill="#fff"/>
<text x="20" y="592" font-family="Liberation Sans" font-weight="bold" font-size="44" fill="#fff" textLength="178" lengthAdjust="spacingAndGlyphs">IBENA.IR</text>
</svg>
</div></body></html>
